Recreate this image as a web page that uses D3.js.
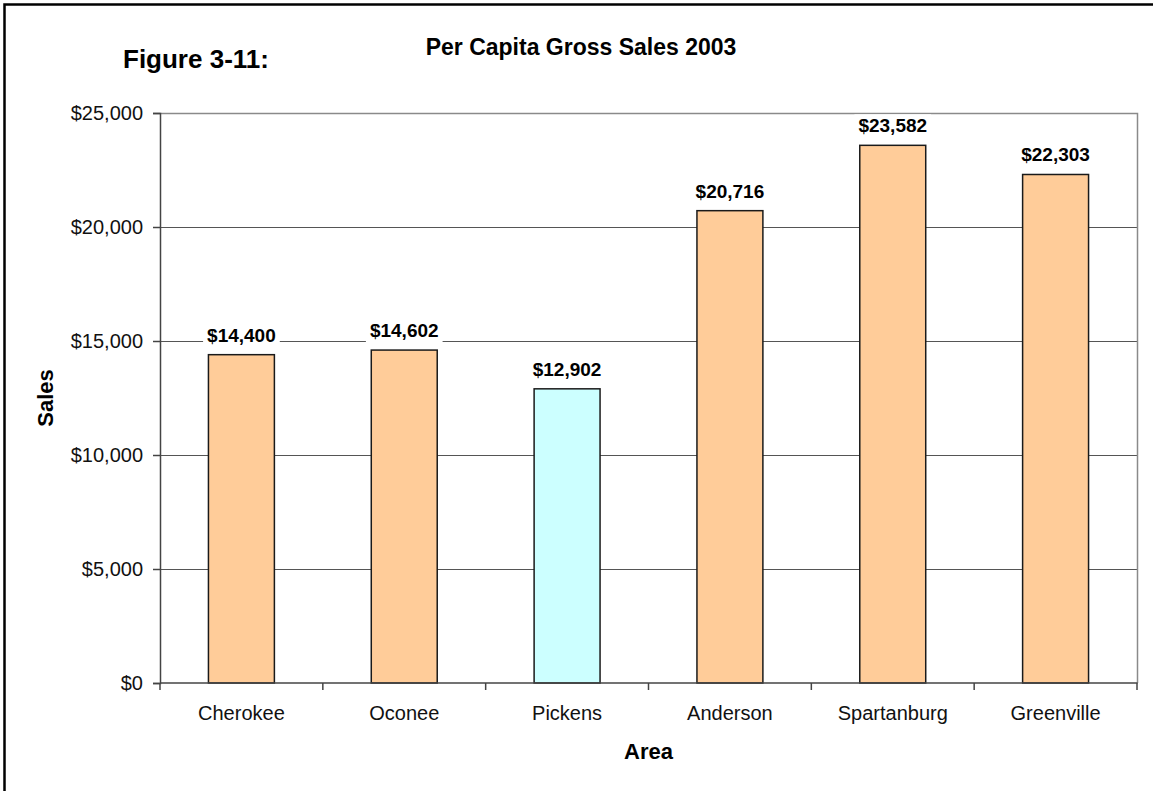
<!DOCTYPE html>
<html>
<head>
<meta charset="utf-8">
<script src="https://cdn.jsdelivr.net/npm/d3@7/dist/d3.min.js"></script>
<style>
  html, body { margin: 0; padding: 0; background: #fff; }
  svg { display: block; font-family: "Liberation Sans", Arial, sans-serif; }
</style>
</head>
<body>
<svg id="chart" width="1153" height="791"></svg>
<script>
// Per capita gross sales by county, 2003
const areas = ["Cherokee", "Oconee", "Pickens", "Anderson", "Spartanburg", "Greenville"];
const sales = [14400, 14602, 12902, 20716, 23582, 22303];
const highlightArea = "Pickens";
const yTicks = [0, 5000, 10000, 15000, 20000, 25000];

const svg = d3.select("#chart");
const W = 1153, H = 791;
const plot = { left: 160, right: 1137, top: 113, bottom: 683 };

// Frame around the figure
svg.append("rect")
  .attr("x", 4.5).attr("y", 4.5)
  .attr("width", W + 20).attr("height", H + 20)
  .attr("fill", "#fff").attr("stroke", "#000").attr("stroke-width", 2.5);

const x = d3.scaleBand().domain(areas).range([plot.left, plot.right]).padding(0);
const y = d3.scaleLinear().domain([0, 25000]).range([plot.bottom, plot.top]);
const barW = x.bandwidth() * 0.405;
const money = d3.format("$,.0f");

// Horizontal gridlines
svg.append("g")
  .selectAll("line")
  .data(yTicks.filter(t => t > 0 && t < 25000))
  .join("line")
  .attr("x1", plot.left).attr("x2", plot.right)
  .attr("y1", d => Math.round(y(d)) + 0.5).attr("y2", d => Math.round(y(d)) + 0.5)
  .attr("stroke", "#555").attr("stroke-width", 1);

// Plot-area border (top and right)
svg.append("path")
  .attr("d", `M${plot.left},${plot.top + 0.5}H${plot.right + 0.5}V${plot.bottom}`)
  .attr("fill", "none").attr("stroke", "#8a8a8a").attr("stroke-width", 1.5);

// Bars
svg.append("g")
  .selectAll("rect")
  .data(areas)
  .join("rect")
  .attr("x", d => x(d) + (x.bandwidth() - barW) / 2)
  .attr("y", (d, i) => y(sales[i]))
  .attr("width", barW)
  .attr("height", (d, i) => y(0) - y(sales[i]))
  .attr("fill", d => d === highlightArea ? "#CCFFFF" : "#FFCC99")
  .attr("stroke", "#1a1a1a").attr("stroke-width", 1.5);

// Y axis
const yAxis = svg.append("g")
  .attr("transform", `translate(${plot.left},0)`)
  .call(d3.axisLeft(y).tickValues(yTicks).tickFormat(money).tickSize(7).tickPadding(10));
yAxis.select(".domain").attr("stroke", "#444").attr("stroke-width", 1.5);
yAxis.selectAll(".tick line").attr("stroke", "#444").attr("stroke-width", 1.5);
yAxis.selectAll(".tick text")
  .attr("font-size", 20).attr("fill", "#111")
  .attr("font-family", "Liberation Sans, Arial, sans-serif");

// X axis: ticks sit on band boundaries
const xAxis = svg.append("g")
  .attr("transform", `translate(0,${plot.bottom})`);
xAxis.append("line")
  .attr("x1", plot.left).attr("x2", plot.right + 0.5)
  .attr("y1", 0).attr("y2", 0)
  .attr("stroke", "#444").attr("stroke-width", 1.5);
const bounds = areas.map(a => x(a)).concat([plot.right]);
xAxis.selectAll("line.tk")
  .data(bounds)
  .join("line").attr("class", "tk")
  .attr("x1", d => d).attr("x2", d => d)
  .attr("y1", 0).attr("y2", 7)
  .attr("stroke", "#444").attr("stroke-width", 1.5);
xAxis.selectAll("text")
  .data(areas)
  .join("text")
  .attr("x", d => x(d) + x.bandwidth() / 2)
  .attr("y", 37)
  .attr("text-anchor", "middle")
  .attr("font-size", 20).attr("fill", "#111")
  .text(d => d);

// Value labels with white backing
const labels = svg.append("g");
areas.forEach((a, i) => {
  const g = labels.append("g");
  const t = g.append("text")
    .attr("x", x(a) + x.bandwidth() / 2)
    .attr("y", y(sales[i]) - 13)
    .attr("text-anchor", "middle")
    .attr("font-size", 19).attr("font-weight", "bold").attr("fill", "#000")
    .text(money(sales[i]));
  const bb = t.node().getBBox();
  g.insert("rect", "text")
    .attr("x", bb.x - 4).attr("y", bb.y - 1)
    .attr("width", bb.width + 8).attr("height", bb.height + 2)
    .attr("fill", "#fff");
});

// Titles
svg.append("text")
  .attr("x", 123).attr("y", 68)
  .attr("font-size", 26).attr("font-weight", "bold")
  .text("Figure 3-11:");

svg.append("text")
  .attr("x", 581).attr("y", 55)
  .attr("text-anchor", "middle")
  .attr("font-size", 23).attr("font-weight", "bold")
  .text("Per Capita Gross Sales 2003");

svg.append("text")
  .attr("x", (plot.left + plot.right) / 2).attr("y", 759)
  .attr("text-anchor", "middle")
  .attr("font-size", 22).attr("font-weight", "bold")
  .text("Area");

svg.append("text")
  .attr("transform", "translate(53,398) rotate(-90)")
  .attr("text-anchor", "middle")
  .attr("font-size", 22).attr("font-weight", "bold")
  .text("Sales");
</script>
</body>
</html>
